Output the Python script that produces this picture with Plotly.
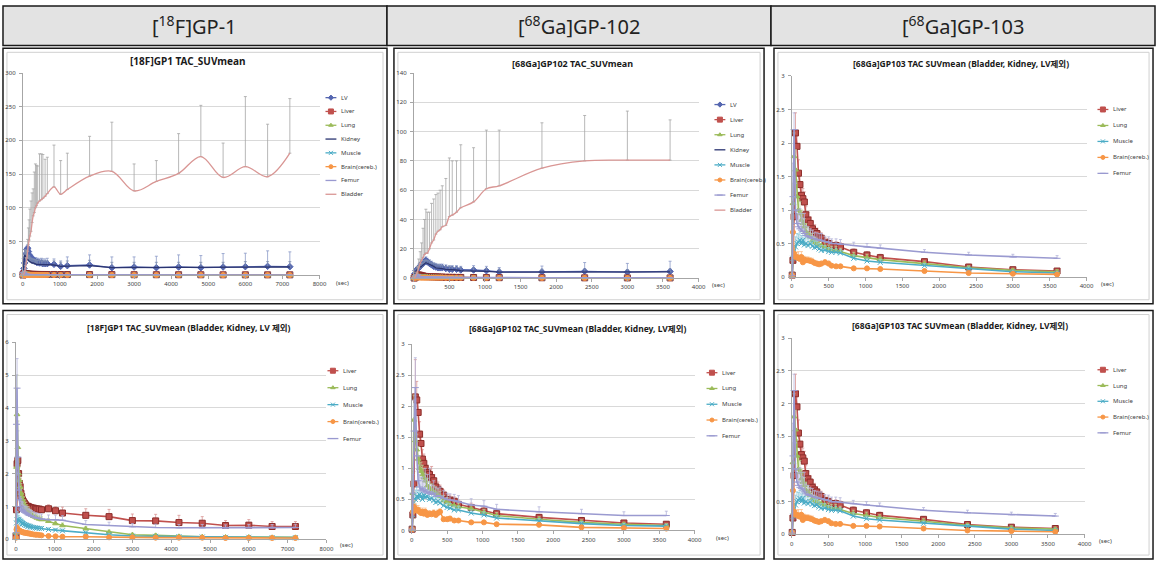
import plotly.graph_objects as go

W, H = 1163, 565

# ---------------- data ----------------
# frame mid-times (sec)
t_f = [5, 15, 30, 50, 70, 90, 110, 130, 150, 170, 190, 220, 250, 280, 310, 340, 370, 400, 450, 500,
       540, 600, 660, 840, 1020, 1200, 1800, 2400, 3000, 3600, 4200, 4800, 5400, 6000, 6600, 7200]
t_g = [5, 15, 30, 50, 70, 90, 110, 130, 150, 170, 190, 220, 250, 280, 310, 340, 370, 400, 450, 500,
       540, 600, 660, 840, 1020, 1200, 1800, 2400, 3000, 3600]

# [18F]GP1
gp1_lv = [1, 5, 10, 18, 25, 32, 38, 40, 35, 30, 28, 26, 24, 22, 21, 20, 19, 19, 18, 18,
          17, 17, 17, 16, 13, 14, 15, 11, 12, 11, 12, 11, 12, 12.5, 13, 12.5]
gp1_lv_err = [0.5, 2, 3, 4, 5, 5, 5, 5, 5, 5, 5, 5, 5, 5, 5, 6, 6, 6, 6, 7,
              7, 7, 8, 8, 8, 13, 15, 16, 15, 17, 18, 18, 20, 20, 23, 22]
gp1_kidney = [2, 12, 25, 30, 28, 26, 24, 23, 22, 21, 20, 19, 18, 18, 17, 17, 16, 16, 16, 15,
              15, 15, 15, 15, 13, 13, 14, 11, 11, 11, 11, 11, 11, 12, 12, 12]
gp1_kidney_err = [1, 4, 6, 8, 8, 8, 7, 7, 7, 7, 6, 6, 6, 6, 6, 6, 6, 6, 6, 6,
                  6, 6, 6, 6, 6, 8, 8, 8, 8, 8, 8, 8, 8, 8, 8, 8]
gp1_bladder = [0, 0.5, 2, 5, 10, 18, 25, 35, 45, 52, 58, 65, 78, 88, 93, 100, 103, 107, 110, 112,
               114, 117, 121, 131, 120, 127, 147, 154, 125, 139, 151, 176, 145, 161, 146, 181]
gp1_bladder_err = [0, 0, 1, 2, 4, 8, 12, 18, 25, 30, 40, 45, 44, 40, 60, 65, 60, 55, 70, 68,
                   65, 55, 54, 62, 50, 54, 59, 73, 40, 31, 59, 76, 51, 104, 78, 81]
gp1_liver = [0.1, 0.9, 2.3, 2.4, 2.0, 1.7, 1.6, 1.4, 1.3, 1.2, 1.15, 1.1, 1.05, 1.0, 1.0, 0.98, 0.97, 0.95, 0.95, 0.93,
             0.92, 0.92, 0.9, 0.93, 0.87, 0.8, 0.73, 0.69, 0.57, 0.56, 0.51, 0.49, 0.42, 0.43, 0.39, 0.39]
gp1_liver_err = [0.05, 0.4, 0.5, 0.4, 0.3, 0.3, 0.25, 0.2, 0.2, 0.2, 0.15, 0.15, 0.15, 0.12, 0.12, 0.12, 0.12, 0.1, 0.1, 0.1,
                 0.1, 0.1, 0.1, 0.12, 0.12, 0.18, 0.2, 0.22, 0.2, 0.2, 0.22, 0.2, 0.15, 0.17, 0.15, 0.15]
gp1_lung = [0.2, 2.2, 3.8, 2.8, 2.0, 1.8, 1.6, 1.4, 1.3, 1.2, 1.1, 1.0, 0.95, 0.9, 0.85, 0.8, 0.78, 0.75, 0.7, 0.68,
            0.65, 0.62, 0.6, 0.55, 0.48, 0.42, 0.32, 0.22, 0.14, 0.12, 0.09, 0.08, 0.07, 0.07, 0.06, 0.06]
gp1_lung_err = [0.1, 0.8, 1.2, 0.8, 0.5, 0.4, 0.3, 0.3, 0.25, 0.2, 0.2, 0.2, 0.18, 0.15, 0.15, 0.15, 0.12, 0.12, 0.12, 0.1,
                0.1, 0.1, 0.1, 0.08, 0.08, 0.08, 0.07, 0.06, 0.05, 0.05, 0.04, 0.04, 0.03, 0.03, 0.03, 0.03]
gp1_muscle = [0.1, 0.5, 0.6, 0.6, 0.58, 0.55, 0.55, 0.52, 0.5, 0.48, 0.47, 0.45, 0.43, 0.42, 0.4, 0.4, 0.38, 0.37, 0.36, 0.35,
              0.34, 0.33, 0.33, 0.3, 0.28, 0.26, 0.2, 0.14, 0.1, 0.09, 0.08, 0.07, 0.06, 0.06, 0.05, 0.05]
gp1_muscle_err = [0.05, 0.2, 0.25, 0.2, 0.15, 0.12, 0.12, 0.1, 0.1, 0.1, 0.1, 0.08, 0.08, 0.08, 0.08, 0.07, 0.07, 0.07, 0.06, 0.06,
                  0.06, 0.06, 0.06, 0.05, 0.05, 0.05, 0.04, 0.04, 0.03, 0.03, 0.03, 0.03, 0.02, 0.02, 0.02, 0.02]
gp1_brain = [0.05, 0.3, 0.35, 0.3, 0.28, 0.26, 0.25, 0.24, 0.23, 0.22, 0.21, 0.2, 0.2, 0.19, 0.18, 0.18, 0.17, 0.16, 0.15, 0.14,
             0.14, 0.13, 0.12, 0.1, 0.09, 0.08, 0.08, 0.06, 0.06, 0.05, 0.05, 0.05, 0.04, 0.04, 0.04, 0.04]
gp1_brain_err = [0.02, 0.1, 0.1, 0.08, 0.08, 0.06, 0.06, 0.05, 0.05, 0.05, 0.05, 0.04, 0.04, 0.04, 0.04, 0.04, 0.03, 0.03, 0.03, 0.03,
                 0.03, 0.03, 0.03, 0.02, 0.02, 0.02, 0.02, 0.02, 0.01, 0.01, 0.01, 0.01, 0.01, 0.01, 0.01, 0.01]
gp1_femur = [0.2, 3.5, 4.6, 2.5, 1.5, 1.2, 1.0, 0.95, 0.9, 0.88, 0.85, 0.82, 0.8, 0.78, 0.75, 0.73, 0.72, 0.7, 0.68, 0.66,
             0.65, 0.63, 0.62, 0.6, 0.6, 0.58, 0.45, 0.42, 0.38, 0.36, 0.35, 0.35, 0.34, 0.35, 0.35, 0.36]
gp1_femur_err = [0.1, 1.5, 0.9, 0.8, 0.5, 0.4, 0.3, 0.3, 0.25, 0.25, 0.22, 0.2, 0.2, 0.2, 0.18, 0.18, 0.17, 0.17, 0.16, 0.15,
                 0.15, 0.15, 0.15, 0.14, 0.14, 0.14, 0.12, 0.1, 0.1, 0.1, 0.1, 0.1, 0.1, 0.1, 0.1, 0.1]

# [68Ga]GP102
gp102_lv = [0.5, 3, 5, 6, 7, 8, 10, 10, 11, 12, 11, 10, 9, 8, 7.5, 7, 7, 7, 6.5, 6,
            6, 6, 5.5, 5.5, 5, 4.2, 4.2, 4.6, 4.0, 4.5]
gp102_lv_err = [0.2, 1, 1.5, 2, 2, 2, 2.5, 2.5, 2.5, 2.5, 2.5, 2.5, 2.5, 2.5, 2.5, 2.5, 2.5, 2.5, 2.5, 2.5,
                2.5, 2.5, 2.5, 3, 3, 3, 4, 6, 6, 7]
gp102_kidney = [0.5, 3, 5, 6, 6.5, 7, 8, 9, 10, 10.5, 10, 9.5, 8.5, 8, 7, 7, 6.5, 6.5, 6, 6,
                5.5, 5.5, 5, 5, 4.6, 4, 4, 4.2, 3.8, 4.2]
gp102_kidney_err = [0.2, 1, 1, 1.5, 1.5, 1.5, 2, 2, 2, 2, 2, 2, 2, 2, 2, 2, 2, 2, 2, 2,
                    2, 2, 2, 2, 2, 2, 2, 2, 2, 2]
gp102_bladder = [0, 0.5, 2, 4, 7, 10, 12, 14, 16, 17, 17, 20, 24, 26, 30, 32, 33, 35, 36, 42,
                 43, 45, 48, 52, 61, 63, 75, 80, 80.5, 80.5]
gp102_bladder_err = [0, 1, 2, 4, 6, 8, 12, 20, 24, 30, 28, 25, 27, 28, 27, 26, 27, 28, 32, 40,
                     37, 35, 43, 37, 40, 38, 31, 31, 33.5, 27.5]
gp102_liver = [0.02, 0.25, 0.75, 2.15, 2.1, 1.9, 1.55, 1.4, 1.15, 1.08, 1.0, 0.93, 0.9, 0.85, 0.8, 0.7, 0.66, 0.63, 0.57, 0.5,
               0.49, 0.47, 0.42, 0.37, 0.31, 0.27, 0.21, 0.16, 0.12, 0.1]
gp102_liver_err = [0.02, 0.1, 0.2, 0.6, 0.3, 0.25, 0.2, 0.2, 0.15, 0.15, 0.15, 0.12, 0.1, 0.18, 0.1, 0.1, 0.12, 0.1, 0.08, 0.08,
                   0.08, 0.07, 0.07, 0.07, 0.06, 0.06, 0.05, 0.05, 0.04, 0.04]
gp102_lung = [0.03, 0.6, 1.78, 1.45, 1.3, 1.15, 1.0, 0.95, 0.9, 0.85, 0.8, 0.72, 0.68, 0.65, 0.62, 0.6, 0.57, 0.55, 0.48, 0.45,
              0.42, 0.4, 0.38, 0.35, 0.29, 0.24, 0.18, 0.13, 0.1, 0.08]
gp102_lung_err = [0.02, 0.2, 0.4, 0.3, 0.25, 0.2, 0.2, 0.15, 0.15, 0.15, 0.12, 0.12, 0.1, 0.1, 0.1, 0.1, 0.1, 0.08, 0.08, 0.08,
                  0.07, 0.07, 0.06, 0.06, 0.05, 0.05, 0.04, 0.04, 0.03, 0.03]
gp102_muscle = [0.02, 0.25, 0.45, 0.5, 0.55, 0.52, 0.58, 0.55, 0.5, 0.57, 0.53, 0.55, 0.5, 0.52, 0.48, 0.45, 0.47, 0.44, 0.4, 0.37,
                0.36, 0.33, 0.33, 0.28, 0.25, 0.2, 0.15, 0.11, 0.08, 0.07]
gp102_muscle_err = [0.02, 0.1, 0.15, 0.15, 0.15, 0.12, 0.15, 0.12, 0.12, 0.12, 0.1, 0.1, 0.1, 0.1, 0.1, 0.08, 0.08, 0.08, 0.08, 0.07,
                    0.07, 0.06, 0.06, 0.05, 0.05, 0.04, 0.04, 0.03, 0.03, 0.03]
gp102_brain = [0.02, 0.3, 0.38, 0.35, 0.32, 0.33, 0.3, 0.28, 0.3, 0.27, 0.3, 0.25, 0.27, 0.26, 0.28, 0.25, 0.28, 0.3, 0.18, 0.18,
               0.19, 0.16, 0.16, 0.13, 0.13, 0.1, 0.09, 0.05, 0.04, 0.03]
gp102_brain_err = [0.01, 0.08, 0.1, 0.08, 0.08, 0.07, 0.07, 0.06, 0.06, 0.06, 0.06, 0.05, 0.05, 0.05, 0.05, 0.05, 0.05, 0.05, 0.04, 0.04,
                   0.04, 0.03, 0.03, 0.03, 0.03, 0.02, 0.02, 0.02, 0.01, 0.01]
gp102_femur = [0.02, 0.6, 1.6, 2.3, 1.2, 0.8, 0.7, 0.65, 0.68, 0.62, 0.65, 0.6, 0.62, 0.58, 0.6, 0.55, 0.56, 0.55, 0.52, 0.5,
               0.49, 0.48, 0.46, 0.41, 0.39, 0.34, 0.3, 0.27, 0.24, 0.24]
gp102_femur_err = [0.02, 0.3, 0.5, 0.48, 0.4, 0.25, 0.2, 0.2, 0.18, 0.18, 0.35, 0.3, 0.38, 0.15, 0.2, 0.15, 0.12, 0.15, 0.12, 0.1,
                   0.1, 0.1, 0.1, 0.1, 0.09, 0.08, 0.08, 0.07, 0.06, 0.07]

# [68Ga]GP103
gp103_liver = [0.03, 0.25, 0.9, 2.15, 1.95, 1.55, 1.38, 1.22, 1.17, 1.12, 0.93, 0.85, 0.8, 0.72, 0.68, 0.65, 0.6, 0.58, 0.52, 0.5,
               0.47, 0.47, 0.45, 0.37, 0.33, 0.29, 0.23, 0.15, 0.11, 0.09]
gp103_liver_err = [0.02, 0.1, 0.2, 0.3, 0.2, 0.2, 0.18, 0.15, 0.15, 0.15, 0.12, 0.12, 0.1, 0.1, 0.1, 0.08, 0.08, 0.08, 0.07, 0.07,
                   0.07, 0.06, 0.06, 0.05, 0.05, 0.05, 0.04, 0.04, 0.03, 0.03]
gp103_lung = [0.03, 1.1, 1.8, 1.6, 1.2, 1.0, 0.95, 0.85, 0.8, 0.75, 0.68, 0.65, 0.6, 0.55, 0.52, 0.5, 0.48, 0.47, 0.45, 0.42,
              0.4, 0.4, 0.38, 0.32, 0.29, 0.26, 0.2, 0.14, 0.1, 0.08]
gp103_lung_err = [0.02, 0.3, 0.35, 0.3, 0.25, 0.2, 0.18, 0.15, 0.15, 0.12, 0.12, 0.1, 0.1, 0.1, 0.08, 0.08, 0.08, 0.07, 0.07, 0.06,
                  0.06, 0.06, 0.05, 0.05, 0.05, 0.04, 0.04, 0.03, 0.03, 0.03]
gp103_muscle = [0.03, 0.28, 0.3, 0.45, 0.5, 0.52, 0.55, 0.5, 0.55, 0.48, 0.5, 0.47, 0.5, 0.46, 0.44, 0.45, 0.42, 0.4, 0.4, 0.38,
                0.37, 0.37, 0.36, 0.28, 0.24, 0.22, 0.17, 0.12, 0.08, 0.06]
gp103_muscle_err = [0.02, 0.1, 0.12, 0.15, 0.15, 0.12, 0.12, 0.12, 0.1, 0.1, 0.1, 0.1, 0.08, 0.08, 0.1, 0.08, 0.08, 0.07, 0.07, 0.06,
                    0.06, 0.06, 0.05, 0.05, 0.04, 0.04, 0.03, 0.03, 0.02, 0.02]
gp103_brain = [0.03, 0.67, 0.35, 0.3, 0.3, 0.28, 0.27, 0.3, 0.22, 0.26, 0.25, 0.25, 0.24, 0.23, 0.21, 0.2, 0.19, 0.2, 0.22, 0.2,
               0.17, 0.16, 0.16, 0.13, 0.13, 0.12, 0.09, 0.06, 0.05, 0.04]
gp103_brain_err = [0.01, 0.1, 0.08, 0.07, 0.07, 0.1, 0.06, 0.08, 0.06, 0.05, 0.05, 0.05, 0.05, 0.05, 0.04, 0.04, 0.04, 0.04, 0.04, 0.04,
                   0.03, 0.03, 0.03, 0.03, 0.02, 0.02, 0.02, 0.02, 0.01, 0.01]
gp103_femur = [0.02, 1.2, 2.2, 1.0, 0.8, 0.75, 0.72, 0.7, 0.68, 0.65, 0.62, 0.6, 0.6, 0.58, 0.57, 0.56, 0.55, 0.55, 0.53, 0.52,
               0.5, 0.5, 0.49, 0.47, 0.45, 0.43, 0.37, 0.33, 0.3, 0.28]
gp103_femur_err = [0.02, 0.5, 0.25, 0.4, 0.2, 0.2, 0.3, 0.25, 0.2, 0.3, 0.15, 0.15, 0.12, 0.12, 0.1, 0.1, 0.1, 0.1, 0.08, 0.08,
                   0.07, 0.07, 0.07, 0.05, 0.05, 0.05, 0.04, 0.04, 0.04, 0.04]

headers = ['[<sup>18</sup>F]GP-1', '[<sup>68</sup>Ga]GP-102', '[<sup>68</sup>Ga]GP-103']
titles = ['<b>[18F]GP1 TAC_SUVmean</b>',
          '<b>[68Ga]GP102 TAC_SUVmean</b>',
          '<b>[68Ga]GP103 TAC SUVmean (Bladder, Kidney, LV제외)</b>',
          '<b>[18F]GP1 TAC_SUVmean (Bladder, Kidney, LV 제외)</b>',
          '<b>[68Ga]GP102 TAC_SUVmean (Bladder, Kidney, LV제외)</b>',
          '<b>[68Ga]GP103 TAC SUVmean (Bladder, Kidney, LV제외)</b>']

series_gp1_all = [('LV', t_f, gp1_lv, gp1_lv_err), ('Liver', t_f, gp1_liver, gp1_liver_err),
                  ('Lung', t_f, gp1_lung, gp1_lung_err), ('Kidney', t_f, gp1_kidney, gp1_kidney_err),
                  ('Muscle', t_f, gp1_muscle, gp1_muscle_err), ('Brain(cereb.)', t_f, gp1_brain, gp1_brain_err),
                  ('Femur', t_f, gp1_femur, gp1_femur_err), ('Bladder', t_f, gp1_bladder, gp1_bladder_err)]
series_gp102_all = [('LV', t_g, gp102_lv, gp102_lv_err), ('Liver', t_g, gp102_liver, gp102_liver_err),
                    ('Lung', t_g, gp102_lung, gp102_lung_err), ('Kidney', t_g, gp102_kidney, gp102_kidney_err),
                    ('Muscle', t_g, gp102_muscle, gp102_muscle_err), ('Brain(cereb.)', t_g, gp102_brain, gp102_brain_err),
                    ('Femur', t_g, gp102_femur, gp102_femur_err), ('Bladder', t_g, gp102_bladder, gp102_bladder_err)]
series_gp103 = [('Liver', t_g, gp103_liver, gp103_liver_err), ('Lung', t_g, gp103_lung, gp103_lung_err),
                ('Muscle', t_g, gp103_muscle, gp103_muscle_err), ('Brain(cereb.)', t_g, gp103_brain, gp103_brain_err),
                ('Femur', t_g, gp103_femur, gp103_femur_err)]
series_gp1_sub = [s for s in series_gp1_all if s[0] not in ('LV', 'Kidney', 'Bladder')]
series_gp102_sub = [s for s in series_gp102_all if s[0] not in ('LV', 'Kidney', 'Bladder')]

# ---------------- styles / layout ----------------
def fx(x):
    return x / W

def fy(y):
    return 1 - y / H

FONT = 'Noto Sans, Noto Sans CJK KR, sans-serif'
COL = {'LV': '#5566B0', 'Liver': '#C0504D', 'Lung': '#9BBB59', 'Kidney': '#2A3470', 'Muscle': '#4BACC6',
       'Brain(cereb.)': '#F79646', 'Femur': '#9A9AD0', 'Bladder': '#D99694'}
ECOL = {'LV': '#8C9BC8', 'Liver': '#D99694', 'Lung': '#C3D69B', 'Kidney': '#7F8FB0', 'Muscle': '#93CDDD',
        'Brain(cereb.)': '#FAC090', 'Femur': '#B3B3D9', 'Bladder': '#A6A6A6'}
MARK = {'LV': ('diamond', 5), 'Liver': ('square', 6), 'Lung': ('triangle-up', 5), 'Kidney': (None, 0),
        'Muscle': ('x-thin', 5), 'Brain(cereb.)': ('circle', 5), 'Femur': ('line-ew', 5), 'Bladder': (None, 0)}

panels = [
    dict(box=(1, 45, 388, 304), plot=(21, 70, 320, 275), xmax=8000, xd=1000, ymax=300, yd=50,
         tpos=(187, 58), tsize=10, series=series_gp1_all, lx=340, ly=95, ldy=14, sec=(335, 283), lw=1.3),
    dict(box=(395, 45, 768, 304), plot=(415, 70, 702, 278), xmax=4000, xd=500, ymax=140, yd=20,
         tpos=(575, 60), tsize=9, series=series_gp102_all, lx=732, ly=102, ldy=15.3, sec=(714, 285), lw=1.3),
    dict(box=(778, 45, 1160, 304), plot=(796, 73, 1093, 277), xmax=4000, xd=500, ymax=3, yd=0.5,
         tpos=(966, 60), tsize=8.5, series=series_gp103, lx=1118, ly=107, ldy=16.2, sec=(1106, 284), lw=1.6),
    dict(box=(1, 311, 388, 563), plot=(14, 343, 327, 543), xmax=8000, xd=1000, ymax=6, yd=1,
         tpos=(188, 328), tsize=8.5, series=series_gp1_sub, lx=342, ly=372, ldy=17.2, sec=(339, 549), lw=1.6),
    dict(box=(395, 311, 768, 563), plot=(413, 345, 698, 534), xmax=4000, xd=500, ymax=3, yd=0.5,
         tpos=(580, 329), tsize=8.5, series=series_gp102_sub, lx=724, ly=374, ldy=16, sec=(718, 542), lw=1.6),
    dict(box=(778, 311, 1160, 563), plot=(796, 339, 1091, 538), xmax=4000, xd=500, ymax=3, yd=0.5,
         tpos=(965, 326), tsize=8.5, series=series_gp103, lx=1118, ly=371, ldy=16, sec=(1104, 545), lw=1.6),
]

fig = go.Figure()
shapes = []
annotations = []
layout = dict(width=W, height=H, margin=dict(l=0, r=0, t=0, b=0), showlegend=False,
              paper_bgcolor='white', plot_bgcolor='rgba(0,0,0,0)', font=dict(family=FONT, color='#404040'))

# header boxes
hx = [(1, 388), (388, 775), (775, 1162)]
for (a, b), txt in zip(hx, headers):
    shapes.append(dict(type='rect', xref='paper', yref='paper', x0=fx(a), x1=fx(b), y0=fy(42), y1=fy(2),
                       fillcolor='#E3E3E3', line=dict(color='#1a1a1a', width=1.5), layer='below'))
    annotations.append(dict(xref='paper', yref='paper', x=fx((a + b) / 2), y=fy(22), text=txt, showarrow=False,
                            font=dict(size=20, color='#222222', family=FONT), xanchor='center', yanchor='middle'))

for i, p in enumerate(panels):
    k = i + 1
    bx0, by0, bx1, by1 = p['box']
    shapes.append(dict(type='rect', xref='paper', yref='paper', x0=fx(bx0), x1=fx(bx1), y0=fy(by1), y1=fy(by0),
                       fillcolor='white', line=dict(color='#1a1a1a', width=1.5), layer='below'))
    shapes.append(dict(type='rect', xref='paper', yref='paper', x0=fx(bx0 + 4), x1=fx(bx1 - 4), y0=fy(by1 - 4),
                       y1=fy(by0 + 4), line=dict(color='#D0D0D0', width=1), layer='below'))
    x0, y0, x1, y1 = p['plot']
    axs = dict(showline=True, linecolor='#A6A6A6', linewidth=1, ticks='outside', ticklen=3, tickcolor='#A6A6A6',
               tickfont=dict(size=6, color='#404040', family=FONT), zeroline=False, fixedrange=True)
    layout['xaxis%d' % k] = dict(domain=[fx(x0), fx(x1)], range=[0, p['xmax']], tick0=0, dtick=p['xd'],
                                 showgrid=False, anchor='y%d' % k, **axs)
    layout['yaxis%d' % k] = dict(domain=[fy(y1), fy(y0)], range=[0, p['ymax']], tick0=0, dtick=p['yd'],
                                 showgrid=True, gridcolor='#D9D9D9', gridwidth=1, anchor='x%d' % k,
                                 ticklabelstandoff=2, **axs)
    annotations.append(dict(xref='paper', yref='paper', x=fx(p['tpos'][0]), y=fy(p['tpos'][1]), text=titles[i],
                            showarrow=False, xanchor='center', yanchor='middle',
                            font=dict(size=p['tsize'], color='#1a1a1a', family=FONT)))
    annotations.append(dict(xref='paper', yref='paper', x=fx(p['sec'][0]), y=fy(p['sec'][1]), text='(sec)',
                            showarrow=False, xanchor='left', yanchor='middle', font=dict(size=6, color='#404040')))

    for j, (name, t, v, e) in enumerate(p['series']):
        sym, sz = MARK[name]
        spline = name == 'Bladder'
        fig.add_trace(go.Scatter(
            x=t, y=v, name=name, xaxis='x%d' % k, yaxis='y%d' % k,
            mode='lines+markers' if sym else 'lines',
            line=dict(color=COL[name], width=p['lw'], shape='spline' if spline else 'linear', smoothing=1.0),
            marker=dict(symbol=sym or 'circle', size=sz, color=COL[name],
                        line=dict(color='#8B2D2A' if name == 'Liver' else COL[name], width=1)),
            error_y=dict(type='data', symmetric=False, array=e, arrayminus=[0] * len(e),
                         color=ECOL[name], thickness=0.8, width=1.5),
            cliponaxis=False))
        # legend sample (drawn on overlay helper axis in pixel units)
        ly = p['ly'] + j * p['ldy']
        fig.add_trace(go.Scatter(x=[p['lx'] - 14, p['lx'] - 3], y=[ly, ly], mode='lines', xaxis='x7', yaxis='y7',
                                 line=dict(color=COL[name], width=1.3), hoverinfo='skip'))
        if sym:
            fig.add_trace(go.Scatter(x=[p['lx'] - 8.5], y=[ly], mode='markers', xaxis='x7', yaxis='y7',
                                     marker=dict(symbol=sym, size=sz - 1, color=COL[name],
                                                 line=dict(color=COL[name], width=1)), hoverinfo='skip'))
        annotations.append(dict(xref='paper', yref='paper', x=fx(p['lx']), y=fy(ly), text=name, showarrow=False,
                                xanchor='left', yanchor='middle', font=dict(size=6, color='#404040')))

layout['xaxis7'] = dict(domain=[0, 1], range=[0, W], visible=False, fixedrange=True, anchor='y7')
layout['yaxis7'] = dict(domain=[0, 1], range=[H, 0], visible=False, fixedrange=True, anchor='x7')
layout['shapes'] = shapes
layout['annotations'] = annotations
fig.update_layout(**layout)
fig.write_html('out.html', config={'displayModeBar': False, 'staticPlot': True},
               post_script="document.body.style.margin='0';document.documentElement.style.overflow='hidden';"
                           "document.body.style.overflow='hidden';")
